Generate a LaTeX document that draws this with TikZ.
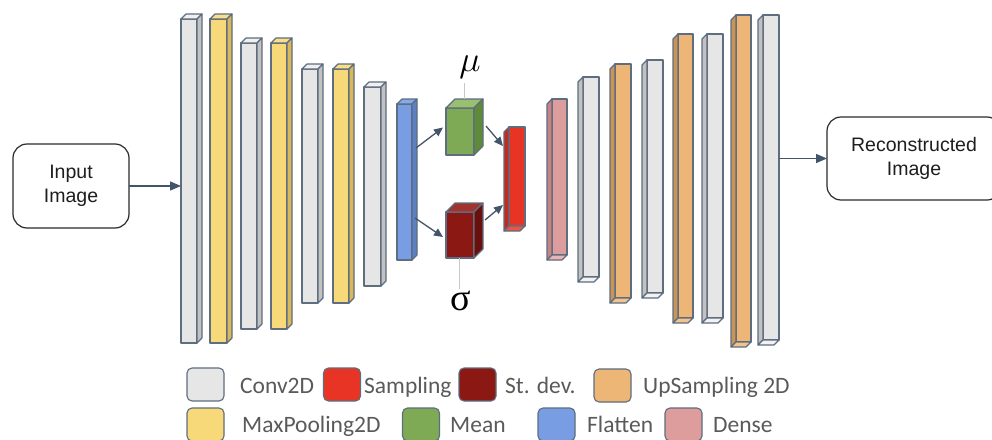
\documentclass[tikz,border=0pt]{standalone}
\usepackage{fontspec}
\setmainfont{Liberation Sans}
\newfontfamily\legfont{Carlito}
\newfontfamily\greekfont{Liberation Serif}
\usetikzlibrary{arrows.meta,calc}
\definecolor{edgec}{HTML}{5E6D80}
\definecolor{arrc}{HTML}{44546A}
\definecolor{boxc}{HTML}{2B2B2B}
\definecolor{txt}{HTML}{1E1E1E}
\definecolor{legc}{HTML}{5A5A5A}
\definecolor{gline}{HTML}{C8C8C8}
\definecolor{greyF}{HTML}{E6E6E6}
\definecolor{greyT}{HTML}{F0F0F0}
\definecolor{greyS}{HTML}{C2C2C2}
\definecolor{greyB}{HTML}{F2F2F2}
\definecolor{yellowF}{HTML}{F8D979}
\definecolor{yellowT}{HTML}{F9DE8A}
\definecolor{yellowS}{HTML}{D8B85A}
\definecolor{blueF}{HTML}{789DE3}
\definecolor{blueT}{HTML}{86A9EA}
\definecolor{blueS}{HTML}{5B80C6}
\definecolor{greenF}{HTML}{7EA955}
\definecolor{greenT}{HTML}{98C070}
\definecolor{greenS}{HTML}{5E8A3A}
\definecolor{drF}{HTML}{8B1812}
\definecolor{drT}{HTML}{A0352F}
\definecolor{drS}{HTML}{6A100C}
\definecolor{redF}{HTML}{E83424}
\definecolor{redS}{HTML}{C42A1E}
\definecolor{redB}{HTML}{EE5444}
\definecolor{pinkF}{HTML}{DE9D9D}
\definecolor{pinkS}{HTML}{C88484}
\definecolor{pinkB}{HTML}{E8B4B4}
\definecolor{orangeF}{HTML}{EDB576}
\definecolor{orangeS}{HTML}{C99556}
\definecolor{orangeB}{HTML}{F2C38E}
% encoder-style bar: name, xl, yt, xr, yb, colour, depth
\newcommand\ebar[7]{%
  \node[barf, fill=#6F, minimum width={#4-#2}, minimum height={#5-#3}] (#1) at ({(#2+#4)/2},{(#3+#5)/2}) {};
  \draw[edge, fill=#6T] (#1.north west) -- ++(#7,-#7) -- ([shift={(#7,-#7)}]#1.north east) -- (#1.north east) -- cycle;
  \draw[edge, fill=#6S] (#1.north east) -- ++(#7,-#7) -- ([shift={(#7,-#7)}]#1.south east) -- (#1.south east) -- cycle;}
% decoder-style bar: name, xl, yt, xr, yb, colour
\newcommand\dbar[6]{%
  \node[barf, fill=#6F, minimum width={#4-#2}, minimum height={#5-#3}] (#1) at ({(#2+#4)/2},{(#3+#5)/2}) {};
  \draw[edge, fill=#6S] (#1.north west) -- ++(-5,5) -- ([shift={(-5,5)}]#1.south west) -- (#1.south west) -- cycle;
  \draw[edge, fill=#6B] (#1.south west) -- ++(-5,5) -- ([shift={(-5,5)}]#1.south east) -- (#1.south east) -- cycle;}
\begin{document}
\begin{tikzpicture}[x=1pt,y=-1pt,
  edge/.style={draw=edgec, line width=1.1pt, line join=round},
  barf/.style={edge, rectangle, inner sep=0pt, outer sep=0pt},
  arr/.style={draw=arrc, line width=1.3pt, -{Triangle[length=11pt,width=9pt]}},
  sarr/.style={draw=arrc, line width=1.3pt, -{Triangle[length=9pt,width=8pt]}},
  glinestyle/.style={draw=gline, line width=1pt},
  imgbox/.style={draw=boxc, line width=1.2pt, rounded corners=14pt, inner sep=0pt, outer sep=0pt,
    align=center, text=txt, font=\fontsize{19.5}{24.5}\selectfont},
  swatch/.style={edge, rounded corners=5pt, minimum width=37pt, minimum height=33pt, inner sep=0pt, outer sep=0pt},
  legtext/.style={anchor=base west, inner sep=0pt, text=legc, font=\legfont\fontsize{23.5}{28}\selectfont}]
\clip (0,0) rectangle (992,439);
\fill[white] (0,0) rectangle (992,439);

% boxes
\node[imgbox, minimum width=116pt, minimum height=84pt] (inp) at (71,186) {Input\\Image};
\node[imgbox, minimum width=174pt, minimum height=83pt] (rec) at (914,158.5) {Reconstructed\\Image};

% encoder
\ebar{e1}{181}{19}{197}{343}{grey}{5}
\ebar{e2}{210}{19}{227}{343}{yellow}{5}
\ebar{e3}{241}{43}{257}{329}{grey}{5}
\ebar{e4}{271}{43}{287}{329}{yellow}{5}
\ebar{e5}{302}{69}{318}{303}{grey}{5}
\ebar{e6}{333}{69}{349}{303}{yellow}{5}
\ebar{e7}{364}{87}{381}{286}{grey}{5}
\ebar{e8}{397}{104}{412}{260}{blue}{5}

% latent
\ebar{cg}{446}{108}{474}{155}{green}{9}
\ebar{cdr}{446}{212}{474}{258}{dr}{9}

% decoder
\dbar{cs}{509}{127}{525}{226}{red}
\dbar{d10}{552}{99}{567}{255}{pink}
\dbar{d11}{583}{77}{599}{277}{grey}
\dbar{d12}{615}{64}{631}{298}{orange}
\dbar{d13}{647}{60}{663}{293}{grey}
\dbar{d14}{678}{34}{693}{318}{orange}
\dbar{d15}{707}{34}{723}{318}{grey}
\dbar{d16}{736}{15}{751}{342}{orange}
\dbar{d17}{763}{15}{779}{340}{grey}

% mu / sigma
\node[anchor=base, inner sep=0pt, scale=1.45] (mu) at (470,71) {\fontsize{24.88}{25}\selectfont$\mu$};
\node[anchor=base, inner sep=0pt] (sig) at (461,310) {\greekfont\fontsize{38}{38}\selectfont σ};
\draw[glinestyle] ([shift={(4.5,-9)}]cg.north) -- ++(0,-16);
\draw[glinestyle] (cdr.south) ++(-1,0) -- ++(0,31);

% arrows
\draw[arr] (inp.east) -- (inp.east -| e1.west);
\draw[arr] (rec.west -| d17.east) -- (rec.west);
\draw[sarr] ([shift={(4,44)}]e8.north east) -- ([shift={(-3,-4)}]cg.west);
\draw[sarr] ([shift={(3,114)}]e8.north east) -- ([shift={(-3,2)}]cdr.west);
\draw[sarr] ([shift={(12,18)}]cg.north east) -- ([shift={(-6,19)}]cs.north west);
\draw[sarr] ([shift={(11,8)}]cdr.north east) -- ([shift={(-6,78)}]cs.north west);

% legend
\node[swatch, fill=greyF] (lg1) at (205.5,384.5) {};
\node[legtext] (lt1) at (240,393) {Conv2D};
\node[swatch, fill=redF] (lg2) at (342,384.5) {};
\node[legtext] (lt2) at (364,393) {Sampling};
\node[swatch, fill=drF] (lg3) at (477.5,384.5) {};
\node[legtext] (lt3) at (505,393) {St. dev.};
\node[swatch, fill=orangeF] (lg4) at (612.5,385.5) {};
\node[legtext] (lt4) at (643,393) {UpSampling 2D};
\node[swatch, fill=yellowF] (lg5) at (205.5,424.5) {};
\node[legtext] (lt5) at (242,432) {MaxPooling2D};
\node[swatch, fill=greenF] (lg6) at (421,424.5) {};
\node[legtext] (lt6) at (450,432) {Mean};
\node[swatch, fill=blueF] (lg7) at (556.5,424.5) {};
\node[legtext] (lt7) at (587,432) {Flatten};
\node[swatch, fill=pinkF] (lg8) at (683.5,424.5) {};
\node[legtext] (lt8) at (713,432) {Dense};
\end{tikzpicture}
\end{document}
